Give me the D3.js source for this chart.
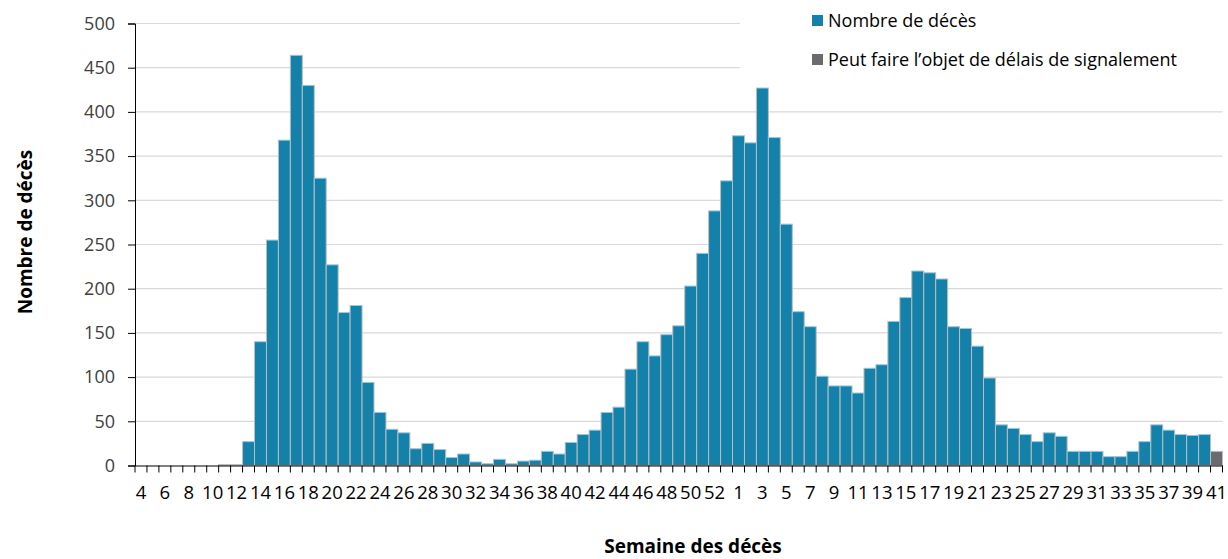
<!DOCTYPE html>
<html>
<head>
<meta charset="utf-8">
<script src="https://cdn.jsdelivr.net/npm/d3@7"></script>
<style>
  body { margin: 0; background: #fff; }
  svg { display: block; font-family: "Open Sans", sans-serif; }
</style>
</head>
<body>
<div id="chart"></div>
<script>
// weeks: 2020 w4..w53 then 2021 w1..w41
var weeks = [4, 5, 6, 7, 8, 9, 10, 11, 12, 13, 14, 15, 16, 17, 18, 19, 20, 21, 22, 23,
  24, 25, 26, 27, 28, 29, 30, 31, 32, 33, 34, 35, 36, 37, 38, 39, 40, 41, 42, 43,
  44, 45, 46, 47, 48, 49, 50, 51, 52, 53,
  1, 2, 3, 4, 5, 6, 7, 8, 9, 10, 11, 12, 13, 14, 15, 16, 17, 18, 19, 20,
  21, 22, 23, 24, 25, 26, 27, 28, 29, 30, 31, 32, 33, 34, 35, 36, 37, 38, 39, 40, 41];

var deces = [0, 0, 0, 0, 0, 0, 0, 1, 1, 27, 140, 255, 368, 464, 430, 325, 227, 173, 181, 94,
  60, 41, 37, 19, 25, 18, 9, 13, 4, 2, 7, 2, 5, 6, 16, 13, 26, 35, 40, 60,
  66, 109, 140, 124, 148, 158, 203, 240, 288, 322,
  373, 365, 427, 371, 273, 174, 157, 101, 90, 90, 82, 110, 114, 163, 190, 220, 218, 211, 157, 155,
  135, 99, 46, 42, 35, 27, 37, 33, 16, 16, 16, 10, 10, 16, 27, 46, 40, 35, 34, 35, 0];

var delais = [0, 0, 0, 0, 0, 0, 0, 0, 0, 0, 0, 0, 0, 0, 0, 0, 0, 0, 0, 0,
  0, 0, 0, 0, 0, 0, 0, 0, 0, 0, 0, 0, 0, 0, 0, 0, 0, 0, 0, 0,
  0, 0, 0, 0, 0, 0, 0, 0, 0, 0,
  0, 0, 0, 0, 0, 0, 0, 0, 0, 0, 0, 0, 0, 0, 0, 0, 0, 0, 0, 0,
  0, 0, 0, 0, 0, 0, 0, 0, 0, 0, 0, 0, 0, 0, 0, 0, 0, 0, 0, 0, 16];

var yTicks = [0, 50, 100, 150, 200, 250, 300, 350, 400, 450, 500];
var legendLabels = ["Nombre de décès", "Peut faire l\u2019objet de délais de signalement"];
var colors = ["#1381a9", "#6a6b6f"];

var width = 1228, height = 559;
var plotLeft = 135, plotRight = 1222.5, plotTop = 23.5, plotBottom = 465.5;

var rows = weeks.map(function(w, i) {
  return { i: i, week: w, deces: deces[i], delais: delais[i] };
});
var keys = ["deces", "delais"];
var series = d3.stack().keys(keys)(rows);

var x = d3.scaleBand()
  .domain(rows.map(function(d) { return d.i; }))
  .range([plotLeft, plotRight])
  .padding(0);

var y = d3.scaleLinear()
  .domain([0, 500])
  .range([plotBottom, plotTop]);

var svg = d3.select("#chart").append("svg")
  .attr("width", width)
  .attr("height", height);

// gridlines
svg.append("g")
  .selectAll("line")
  .data(yTicks.slice(1))
  .enter().append("line")
  .attr("x1", plotLeft).attr("x2", plotRight)
  .attr("y1", function(d) { return y(d); })
  .attr("y2", function(d) { return y(d); })
  .attr("stroke", "#d9d9d9")
  .attr("stroke-width", 1.2);

// white box behind legend hides the top grid lines
svg.append("rect")
  .attr("x", 740).attr("y", 0)
  .attr("width", width - 740).attr("height", 86)
  .attr("fill", "#fff");

// bars
svg.append("g")
  .selectAll("g")
  .data(series)
  .enter().append("g")
  .attr("fill", function(d, i) { return colors[i]; })
  .selectAll("rect")
  .data(function(d) { return d.filter(function(p) { return p[1] - p[0] > 0; }); })
  .enter().append("rect")
  .attr("x", function(d) { return x(d.data.i); })
  .attr("y", function(d) { return y(d[1]); })
  .attr("width", x.bandwidth())
  .attr("height", function(d) { return y(d[0]) - y(d[1]); })
  .attr("stroke", "#bdbdbd")
  .attr("stroke-width", 1);

// y axis
var yAxis = svg.append("g")
  .attr("transform", "translate(" + plotLeft + ",0)")
  .call(d3.axisLeft(y).tickValues(yTicks).tickSize(7).tickPadding(13))
  .attr("font-family", "'Open Sans', sans-serif");
yAxis.selectAll("text")
  .attr("fill", "#404040")
  .style("font-size", "18px");
yAxis.selectAll("line").attr("stroke", "#000");
yAxis.select(".domain").attr("stroke", "#000");

// x axis
var xAxis = svg.append("g")
  .attr("transform", "translate(0," + plotBottom + ")")
  .call(d3.axisBottom(x)
    .tickSizeInner(0).tickSizeOuter(0).tickPadding(20)
    .tickFormat(function(d, i) { return i % 2 === 0 ? weeks[d] : ""; }))
  .attr("font-family", "'Open Sans', sans-serif");
xAxis.selectAll("text")
  .attr("fill", "#000")
  .style("font-size", "18.5px");
xAxis.select(".domain").attr("stroke", "#000").attr("stroke-width", 1.2);

// tick marks at band boundaries
xAxis.selectAll(".bound")
  .data(rows.map(function(d) { return x(d.i); }).concat([plotRight]))
  .enter().append("line")
  .attr("class", "bound")
  .attr("x1", function(d) { return d; })
  .attr("x2", function(d) { return d; })
  .attr("y1", 0).attr("y2", 7)
  .attr("stroke", "#000");

// axis titles
svg.append("text")
  .attr("x", 693).attr("y", 553)
  .attr("text-anchor", "middle")
  .style("font-size", "19px")
  .style("font-weight", "bold")
  .text("Semaine des décès");

svg.append("text")
  .attr("transform", "translate(32,232) rotate(-90)")
  .attr("text-anchor", "middle")
  .style("font-size", "19px")
  .style("font-weight", "bold")
  .text("Nombre de décès");

// legend
var legend = svg.append("g")
  .selectAll("g")
  .data(legendLabels)
  .enter().append("g")
  .attr("transform", function(d, i) { return "translate(812," + (15 + i * 39) + ")"; });

legend.append("rect")
  .attr("width", 11).attr("height", 11)
  .attr("fill", function(d, i) { return colors[i]; });

legend.append("text")
  .attr("x", 16).attr("y", 5.5)
  .attr("dy", "0.35em")
  .style("font-size", "18px")
  .attr("fill", "#000")
  .text(function(d) { return d; });
</script>
</body>
</html>
